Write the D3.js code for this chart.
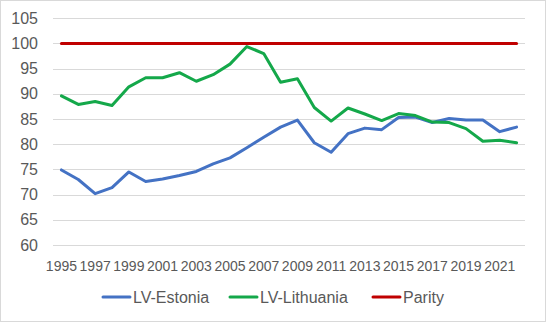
<!DOCTYPE html>
<html>
<head>
<meta charset="utf-8">
<script src="https://cdn.jsdelivr.net/npm/d3@7"></script>
<style>
  html, body { margin: 0; padding: 0; background: #fff; }
  svg { display: block; font-family: "Liberation Sans", Arial, sans-serif; }
</style>
</head>
<body>
<svg id="chart" width="546" height="322"></svg>
<script>
// Price level ratios, Latvia relative to neighbours (Parity = 100)
const years = d3.range(1995, 2023);
const estonia = [74.9, 73.0, 70.2, 71.4, 74.5, 72.6, 73.1, 73.8, 74.6, 76.1, 77.3, 79.3, 81.4, 83.4,
                 84.8, 80.3, 78.4, 82.1, 83.2, 82.9, 85.3, 85.4, 84.3, 85.1, 84.8, 84.8, 82.5, 83.4];
const lithuania = [89.6, 87.9, 88.5, 87.7, 91.4, 93.2, 93.2, 94.2, 92.5, 93.8, 95.9, 99.4, 98.0, 92.3,
                   93.0, 87.3, 84.6, 87.2, 86.0, 84.7, 86.1, 85.7, 84.4, 84.3, 83.1, 80.6, 80.8, 80.3];
const parity = years.map(() => 100);
const yTicks = [60, 65, 70, 75, 80, 85, 90, 95, 100, 105];
const xTickYears = years.filter(y => (y - 1995) % 2 === 0);

const series = [
  { name: "LV-Estonia", values: estonia, color: "#4472C4" },
  { name: "LV-Lithuania", values: lithuania, color: "#14A84A" },
  { name: "Parity", values: parity, color: "#C00000" }
];

const svg = d3.select("#chart");
const W = 546, H = 322;
const plot = { left: 53, right: 525, top: 18.3, bottom: 245 };

// chart frame
svg.append("rect").attr("x", 0.5).attr("y", 0.5).attr("width", W - 1).attr("height", H - 1)
  .attr("fill", "#fff").attr("stroke", "#D9D9D9");

const x = d3.scaleBand().domain(years).range([plot.left, plot.right]);
const xc = yr => x(yr) + x.bandwidth() / 2;
const y = d3.scaleLinear().domain([60, 105]).range([plot.bottom, plot.top]);

// horizontal gridlines
svg.append("g").selectAll("line").data(yTicks).join("line")
  .attr("x1", plot.left).attr("x2", plot.right)
  .attr("y1", d => Math.round(y(d)) + 0.5).attr("y2", d => Math.round(y(d)) + 0.5)
  .attr("stroke", "#D9D9D9").attr("stroke-width", 1);

// y axis labels
const yAxis = d3.axisLeft(y).tickValues(yTicks).tickSize(0).tickPadding(0);
const gy = svg.append("g").attr("transform", `translate(38,0)`).call(yAxis);
gy.select(".domain").remove();
gy.selectAll("text").attr("fill", "#595959").style("font-size", "16px")
  .style("font-family", "'Liberation Sans', Arial, sans-serif");

// x axis labels
const xAxis = d3.axisBottom(x).tickValues(xTickYears).tickSize(0).tickPadding(0);
const gx = svg.append("g").attr("transform", `translate(0,261)`).call(xAxis);
gx.select(".domain").remove();
gx.selectAll("text").attr("fill", "#595959").style("font-size", "14px")
  .style("font-family", "'Liberation Sans', Arial, sans-serif");

// series lines
const line = d3.line().x((d, i) => xc(years[i])).y(d => y(d));
svg.append("g").selectAll("path").data(series).join("path")
  .attr("d", d => line(d.values))
  .attr("fill", "none").attr("stroke", d => d.color)
  .attr("stroke-width", 3).attr("stroke-linejoin", "round").attr("stroke-linecap", "round");

// legend
const legendX = [103, 230, 373];
const lg = svg.append("g").selectAll("g").data(series).join("g")
  .attr("transform", (d, i) => `translate(${legendX[i]},297)`);
lg.append("line").attr("x1", 0).attr("x2", 27).attr("y1", 0).attr("y2", 0)
  .attr("stroke", d => d.color).attr("stroke-width", 3).attr("stroke-linecap", "round");
lg.append("text").attr("x", 30).attr("y", 5.8).text(d => d.name)
  .attr("fill", "#595959").style("font-size", "16px");
</script>
</body>
</html>
